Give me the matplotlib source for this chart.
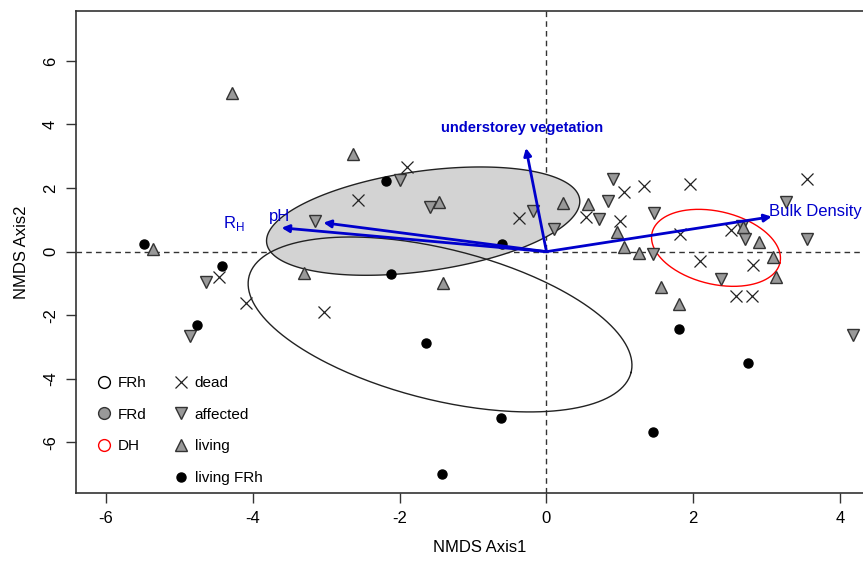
import numpy as np
import matplotlib.pyplot as plt
from matplotlib.lines import Line2D

plt.rcParams['font.family'] = ['Liberation Sans', 'DejaVu Sans']
plt.rcParams['mathtext.fontset'] = 'custom'
plt.rcParams['mathtext.rm'] = 'Liberation Sans'
plt.rcParams['axes.unicode_minus'] = False

# site scores
dead_x = [-1.90, -2.57, -0.37, -4.46, -4.10, -3.03, 1.05, 1.33, 1.96, 3.55,
          0.54, 1.00, 1.82, 2.52, 2.09, 2.82, 2.58, 2.80]
dead_y = [2.66, 1.62, 1.07, -0.79, -1.62, -1.90, 1.89, 2.07, 2.12, 2.28,
          1.10, 0.97, 0.55, 0.68, -0.29, -0.42, -1.38, -1.38]

affected_x = [-1.99, -1.59, -3.16, -0.19, -4.64, -4.86, 4.18, 0.91, 0.84, 0.72,
              1.47, 0.10, 1.45, 2.66, 2.70, 2.38, 3.26, 3.55]
affected_y = [2.25, 1.40, 0.97, 1.28, -0.94, -2.65, -2.62, 2.28, 1.60, 1.02,
              1.21, 0.70, -0.07, 0.81, 0.39, -0.87, 1.57, 0.39]

living_x = [-4.28, -2.64, -5.36, -3.31, -1.41, -1.46, 0.22, 0.57, 0.96, 1.06,
            1.26, 2.89, 3.09, 3.13, 1.56, 1.80, 2.68]
living_y = [4.98, 3.06, 0.08, -0.68, -0.99, 1.55, 1.52, 1.50, 0.63, 0.16,
            -0.05, 0.31, -0.16, -0.79, -1.12, -1.64, 0.77]

frh_x = [-5.49, -4.42, -4.76, -2.18, -2.12, -0.60, -1.64, -0.62, -1.42, 1.45, 1.80, 2.74]
frh_y = [0.24, -0.44, -2.31, 2.22, -0.71, 0.23, -2.86, -5.22, -6.98, -5.66, -2.43, -3.49]

# ellipses: centre and two conjugate half-diameters (data units)
ell_frd = {"c": (-1.68, 0.96), "u": (2.132, 0.691), "v": (0.095, -1.557)}
ell_frh = {"c": (-1.45, -2.29), "u": (2.603, -1.509), "v": (-0.250, -2.300)}
ell_dh = {"c": (2.31, 0.12), "u": (0.871, -0.475), "v": (-0.114, -1.114)}

# environmental vectors
vec_names = ["understorey vegetation", "pH", r"R$_\mathrm{H}$", "Bulk Density"]
vec_x = [-0.28, -3.04, -3.61, 3.07]
vec_y = [3.26, 0.91, 0.75, 1.10]
lab_x = [-0.33, -3.64, -4.26, 3.67]
lab_y = [3.90, 1.09, 0.87, 1.27]


def ellipse_pts(e, n=300):
    t = np.linspace(0, 2 * np.pi, n)
    x = e["c"][0] + e["u"][0] * np.cos(t) + e["v"][0] * np.sin(t)
    y = e["c"][1] + e["u"][1] * np.cos(t) + e["v"][1] * np.sin(t)
    return x, y


fig = plt.figure(figsize=(8.63, 5.62), dpi=100)
ax = fig.add_axes([0.0881, 0.1228, 0.9363, 0.8577])
ax.set_xlim(-6.41, 4.60)
ax.set_ylim(-7.59, 7.57)

ax.axhline(0, color="#333333", lw=1, ls=(0, (4, 3)), zorder=1)
ax.axvline(0, color="#333333", lw=1, ls=(0, (4, 3)), zorder=1)

x, y = ellipse_pts(ell_frd)
ax.fill(x, y, facecolor="#d3d3d3", edgecolor="#222222", lw=1, zorder=2)
x, y = ellipse_pts(ell_frh)
ax.plot(x, y, color="#222222", lw=1, zorder=3)
x, y = ellipse_pts(ell_dh)
ax.plot(x, y, color="red", lw=1, zorder=3)

gray = "#999999"
ax.plot(dead_x, dead_y, "x", ms=8, mew=0.9, color="#222222", zorder=4)
ax.plot(affected_x, affected_y, "v", ms=9, mfc=gray, mec="#333333", mew=1, ls="none", zorder=4)
ax.plot(living_x, living_y, "^", ms=9, mfc=gray, mec="#333333", mew=1, ls="none", zorder=4)
ax.plot(frh_x, frh_y, "o", ms=6.5, color="black", ls="none", zorder=4)

blue = "#0000cc"
for i in range(len(vec_names)):
    ax.annotate("", xy=(vec_x[i], vec_y[i]), xytext=(0, 0),
                arrowprops=dict(arrowstyle="-|>", color=blue, lw=2,
                                mutation_scale=11, shrinkA=0, shrinkB=0),
                zorder=5)
    weight = "bold" if i == 0 else "normal"
    size = 10.5 if i == 0 else 12
    ax.text(lab_x[i], lab_y[i], vec_names[i], color=blue, fontsize=size,
            fontweight=weight, ha="center", va="center", zorder=6)

ax.set_xticks([-6, -4, -2, 0, 2, 4])
ax.set_yticks([-6, -4, -2, 0, 2, 4, 6])
ax.tick_params(direction="out", length=7, width=1, labelsize=12, pad=6, color="#333333")
plt.setp(ax.get_yticklabels(), rotation=90, va="center")
for s in ax.spines.values():
    s.set_color("#333333")
    s.set_linewidth(1.2)

ax.set_xlabel("NMDS Axis1", fontsize=12, labelpad=10)
ax.set_ylabel("NMDS Axis2", fontsize=12, labelpad=10)

handles = [
    Line2D([], [], marker="o", ls="none", ms=8.5, mfc="white", mec="black"),
    Line2D([], [], marker="o", ls="none", ms=8.5, mfc=gray, mec="#333333"),
    Line2D([], [], marker="o", ls="none", ms=8.5, mfc="white", mec="red"),
    Line2D([], [], ls="none"),
    Line2D([], [], marker="x", ls="none", ms=8, mew=0.9, color="#222222"),
    Line2D([], [], marker="v", ls="none", ms=9, mfc=gray, mec="#333333"),
    Line2D([], [], marker="^", ls="none", ms=9, mfc=gray, mec="#333333"),
    Line2D([], [], marker="o", ls="none", ms=6.5, color="black"),
]
labels = ["FRh", "FRd", "DH", "", "dead", "affected", "living", "living FRh"]
ax.legend(handles, labels, ncol=2, frameon=False, fontsize=11, loc="lower left",
          bbox_to_anchor=(0.0087, -0.012), labelspacing=1.16, handlelength=1.0,
          handletextpad=0.4, columnspacing=1.73)

fig.savefig("out.png", dpi=100)
